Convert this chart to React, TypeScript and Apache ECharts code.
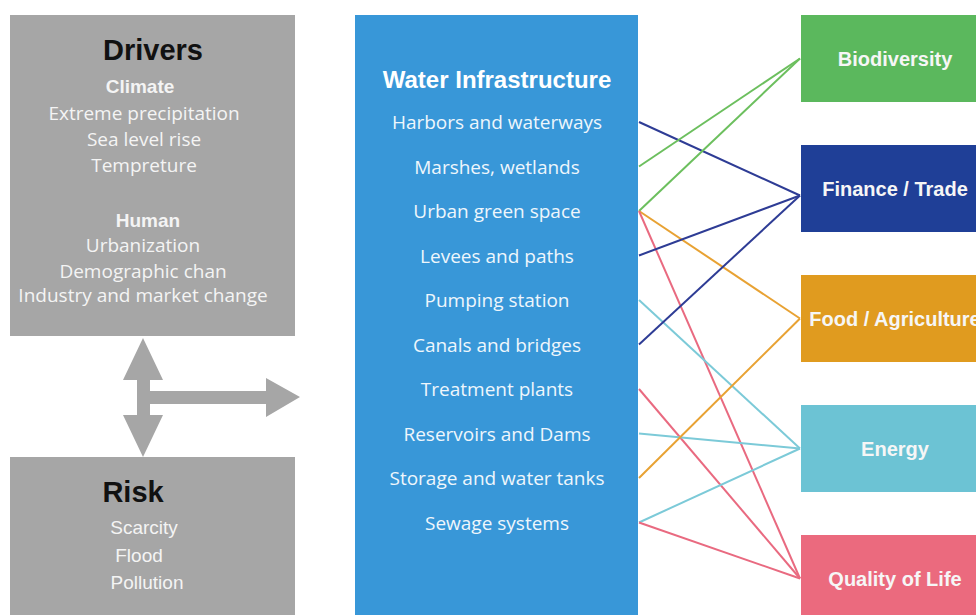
import React, { useEffect, useRef } from "react";
import * as echarts from "echarts";

const climateItems = ["Extreme precipitation", "Sea level rise", "Tempreture"];
const humanItems = ["Urbanization", "Demographic chan", "Industry and market change"];
const riskItems = ["Scarcity", "Flood", "Pollution"];
const infrastructure = [
  "Harbors and waterways",
  "Marshes, wetlands",
  "Urban green space",
  "Levees and paths",
  "Pumping station",
  "Canals and bridges",
  "Treatment plants",
  "Reservoirs and Dams",
  "Storage and water tanks",
  "Sewage systems",
];
const outcomes = ["Biodiversity", "Finance / Trade", "Food / Agriculture", "Energy", "Quality of Life"];
// [infrastructure index, outcome index]
const links: [number, number][] = [
  [0, 1],
  [1, 0],
  [2, 0],
  [2, 2],
  [2, 4],
  [3, 1],
  [4, 3],
  [5, 1],
  [6, 4],
  [7, 3],
  [8, 2],
  [9, 3],
  [9, 4],
];

const boxColors = ["#5bb85d", "#1f3f97", "#e09b1f", "#6cc3d4", "#eb6a7e"];
const linkColors = ["#6cbf5e", "#2e3c95", "#e8a233", "#7ccad8", "#e96a80"];

const W = 976;
const H = 615;
const GRAY = "#a6a6a6";
const BLUE = "#3897d8";
const SANS = "'Open Sans', sans-serif";
const ARIAL = "'Liberation Sans', Arial, sans-serif";

const infraX = 638;
const infraY0 = 122;
const infraStep = 44.5;
const outX = 801;
const outY0 = 15;
const outStep = 130;
const outH = 87;

const outAnchor = (j: number) => outY0 + j * outStep + outH / 2 + (j === 1 ? 7 : 0);

export default function App() {
  const ref = useRef<HTMLDivElement>(null);
  useEffect(() => {
    if (!ref.current) return;
    const chart = echarts.init(ref.current, null, { renderer: "svg" });

    const graphics: any[] = [];
    // Drivers box
    graphics.push({ type: "rect", shape: { x: 10, y: 15, width: 285, height: 321 }, style: { fill: GRAY } });
    graphics.push({
      type: "text", x: 153, y: 50,
      style: { text: "Drivers", fill: "#111", font: `bold 29px ${ARIAL}`, align: "center", verticalAlign: "middle" },
    });
    graphics.push({
      type: "text", x: 140, y: 86,
      style: { text: "Climate", fill: "#f4f4f4", font: `bold 19px ${ARIAL}`, align: "center", verticalAlign: "middle" },
    });
    const climY = [113, 139, 165];
    climateItems.forEach((t, i) =>
      graphics.push({
        type: "text", x: 144, y: climY[i],
        style: { text: t, fill: "#f4f4f4", font: `19px ${SANS}`, align: "center", verticalAlign: "middle" },
      })
    );
    graphics.push({
      type: "text", x: 148, y: 220,
      style: { text: "Human", fill: "#f4f4f4", font: `bold 19px ${ARIAL}`, align: "center", verticalAlign: "middle" },
    });
    const humY = [245, 271, 295];
    humanItems.forEach((t, i) =>
      graphics.push({
        type: "text", x: 143, y: humY[i],
        style: { text: t, fill: "#f4f4f4", font: `19px ${SANS}`, align: "center", verticalAlign: "middle" },
      })
    );

    // Risk box
    graphics.push({ type: "rect", shape: { x: 10, y: 457, width: 285, height: 170 }, style: { fill: GRAY } });
    graphics.push({
      type: "text", x: 133, y: 492,
      style: { text: "Risk", fill: "#111", font: `bold 29px ${ARIAL}`, align: "center", verticalAlign: "middle" },
    });
    const riskX = [144, 139, 147];
    const riskY = [527, 555, 582];
    riskItems.forEach((t, i) =>
      graphics.push({
        type: "text", x: riskX[i], y: riskY[i],
        style: { text: t, fill: "#f4f4f4", font: `19px ${ARIAL}`, align: "center", verticalAlign: "middle" },
      })
    );

    // Arrows
    graphics.push({
      type: "polygon",
      shape: {
        points: [
          [143, 338], [163, 380], [150, 380], [150, 415], [163, 415], [143, 457],
          [123, 415], [137, 415], [137, 380], [123, 380],
        ],
      },
      style: { fill: GRAY },
    });
    graphics.push({
      type: "polygon",
      shape: { points: [[150, 391], [266, 391], [266, 378], [300, 397], [266, 417], [266, 404], [150, 404]] },
      style: { fill: GRAY },
    });

    // Water infrastructure box
    graphics.push({ type: "rect", shape: { x: 355, y: 15, width: infraX - 355, height: 620 }, style: { fill: BLUE } });
    graphics.push({
      type: "text", x: 497, y: 79,
      style: { text: "Water Infrastructure", fill: "#fff", font: `bold 24px ${ARIAL}`, align: "center", verticalAlign: "middle" },
    });
    infrastructure.forEach((t, i) =>
      graphics.push({
        type: "text", x: 497, y: infraY0 + i * infraStep,
        style: { text: t, fill: "#eef6fc", font: `19px ${SANS}`, align: "center", verticalAlign: "middle" },
      })
    );

    // Outcome boxes
    outcomes.forEach((t, j) => {
      const top = outY0 + j * outStep;
      graphics.push({ type: "rect", shape: { x: outX, y: top, width: 190, height: outH }, style: { fill: boxColors[j] } });
      graphics.push({
        type: "text", x: 895, y: top + outH / 2,
        style: { text: t, fill: "#f6f6f6", font: `bold 20px ${ARIAL}`, align: "center", verticalAlign: "middle" },
      });
    });

    const lineData = links.map(([i, j]) => ({
      coords: [
        [infraX + 1, infraY0 + i * infraStep],
        [outX - 1, outAnchor(j)],
      ],
      lineStyle: { color: linkColors[j], width: 2, opacity: 1 },
    }));

    chart.setOption({
      animation: false,
      backgroundColor: "#ffffff",
      grid: { left: 0, right: 0, top: 0, bottom: 0 },
      xAxis: { type: "value", min: 0, max: W, show: false },
      yAxis: { type: "value", min: 0, max: H, inverse: true, show: false },
      graphic: graphics,
      series: [
        {
          type: "lines",
          coordinateSystem: "cartesian2d",
          silent: true,
          z: 5,
          data: lineData,
        },
      ],
    });
    return () => chart.dispose();
  }, []);
  return (
    <div
      ref={ref}
      style={{ position: "absolute", left: 0, top: 0, width: W, height: H, overflow: "hidden" }}
    />
  );
}
